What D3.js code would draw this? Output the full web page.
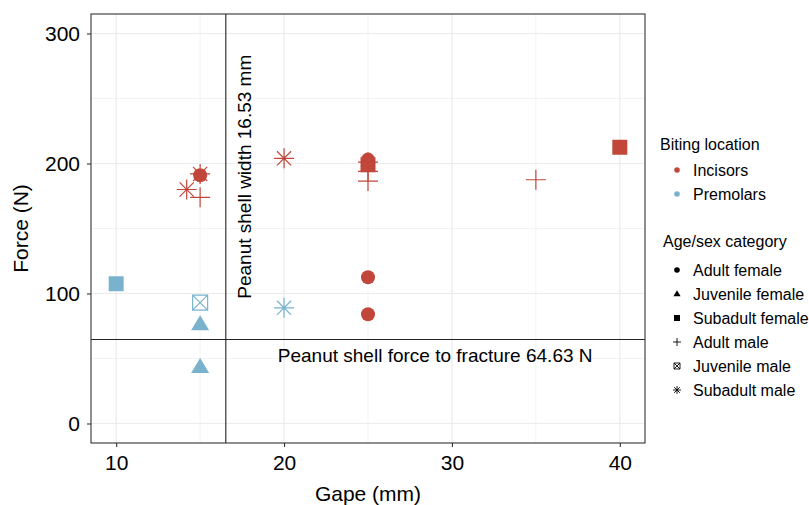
<!DOCTYPE html>
<html>
<head>
<meta charset="utf-8">
<script src="https://cdn.jsdelivr.net/npm/d3@7"></script>
<style>
  body { margin: 0; background: #fff; }
  svg { font-family: "Liberation Sans", Arial, sans-serif; }
</style>
</head>
<body>
<div id="chart"></div>
<script>
// values
const gape     = [15, 15, 14.2, 15, 20, 25, 25, 25, 25, 25, 25, 25, 35, 40, 10, 15, 15, 15, 20];
const force    = [191, 192, 180, 174, 204, 203, 199, 201, 194, 186.5, 112.5, 84, 187.5, 212.5, 107.5, 93, 76, 43, 89];
const bitingLoc = ['Incisors', 'Incisors', 'Incisors', 'Incisors', 'Incisors', 'Incisors', 'Incisors',
    'Incisors', 'Incisors', 'Incisors', 'Incisors', 'Incisors', 'Incisors', 'Incisors',
    'Premolars', 'Premolars', 'Premolars', 'Premolars', 'Premolars'];
const category = ['Adult female', 'Subadult male', 'Subadult male', 'Adult male', 'Subadult male',
    'Adult female', 'Subadult female', 'Adult male', 'Adult male', 'Adult male', 'Adult female',
    'Adult female', 'Adult male', 'Subadult female', 'Subadult female', 'Juvenile male',
    'Juvenile female', 'Juvenile female', 'Subadult male'];

const locations = ['Incisors', 'Premolars'];
const categories = ['Adult female', 'Juvenile female', 'Subadult female', 'Adult male', 'Juvenile male', 'Subadult male'];
const xTicks = [10, 20, 30, 40];
const yTicks = [0, 100, 200, 300];
const shellWidth = 16.53;
const shellForce = 64.63;

const points = gape.map((g, i) => ({gape: g, force: force[i], loc: bitingLoc[i], cat: category[i]}));

const width = 809, height = 505;
const margin = {top: 14, right: 164, bottom: 62, left: 91};

const svg = d3.select('#chart').append('svg')
    .attr('width', width)
    .attr('height', height);

const x = d3.scaleLinear().domain([8.5, 41.5]).range([margin.left, width - margin.right]);
const y = d3.scaleLinear().domain([-15, 315]).range([height - margin.bottom, margin.top]);

const colour = d3.scaleOrdinal().domain(locations).range(['#c0473a', '#7ab2ce']);

// shape path for each category, s = scale factor
function shapePath(cat, s) {
    const p = d3.path();
    if (cat === 'Adult female') {
        const r = 7 * s;
        p.moveTo(r, 0); p.arc(0, 0, r, 0, 2 * Math.PI);
    } else if (cat === 'Juvenile female') {
        p.moveTo(0, -9.5 * s); p.lineTo(9 * s, 5.5 * s); p.lineTo(-9 * s, 5.5 * s); p.closePath();
    } else if (cat === 'Subadult female') {
        p.rect(-7.5 * s, -7.5 * s, 15 * s, 15 * s);
    } else if (cat === 'Adult male') {
        p.moveTo(-10 * s, 0); p.lineTo(10 * s, 0); p.moveTo(0, -10 * s); p.lineTo(0, 10 * s);
    } else if (cat === 'Juvenile male') {
        const h = 7.5 * s;
        p.rect(-h, -h, 2 * h, 2 * h);
        p.moveTo(-h, -h); p.lineTo(h, h); p.moveTo(h, -h); p.lineTo(-h, h);
    } else {
        const r = 10 * s, d = r * Math.SQRT1_2;
        p.moveTo(-r, 0); p.lineTo(r, 0); p.moveTo(0, -r); p.lineTo(0, r);
        p.moveTo(-d, -d); p.lineTo(d, d); p.moveTo(d, -d); p.lineTo(-d, d);
    }
    return p.toString();
}
const filled = c => ['Adult female', 'Juvenile female', 'Subadult female'].includes(c);

// grid
const grid = svg.append('g').attr('stroke', '#ebebeb');
grid.selectAll('.vminor').data([15, 25, 35]).join('line')
    .attr('class', 'vminor')
    .attr('x1', d => x(d)).attr('x2', d => x(d))
    .attr('y1', margin.top).attr('y2', height - margin.bottom).attr('stroke-width', 0.6);
grid.selectAll('.hminor').data([50, 150, 250]).join('line')
    .attr('class', 'hminor')
    .attr('y1', d => y(d)).attr('y2', d => y(d))
    .attr('x1', margin.left).attr('x2', width - margin.right).attr('stroke-width', 0.6);
grid.selectAll('.vmajor').data(xTicks).join('line')
    .attr('class', 'vmajor')
    .attr('x1', d => x(d)).attr('x2', d => x(d))
    .attr('y1', margin.top).attr('y2', height - margin.bottom).attr('stroke-width', 1.2);
grid.selectAll('.hmajor').data(yTicks).join('line')
    .attr('class', 'hmajor')
    .attr('y1', d => y(d)).attr('y2', d => y(d))
    .attr('x1', margin.left).attr('x2', width - margin.right).attr('stroke-width', 1.2);

// reference lines
svg.append('line')
    .attr('x1', x(shellWidth)).attr('x2', x(shellWidth))
    .attr('y1', margin.top).attr('y2', height - margin.bottom)
    .attr('stroke', '#222').attr('stroke-width', 1.1);
svg.append('line')
    .attr('y1', y(shellForce)).attr('y2', y(shellForce))
    .attr('x1', margin.left).attr('x2', width - margin.right)
    .attr('stroke', '#222').attr('stroke-width', 1.1);

svg.append('text')
    .attr('transform', `translate(${x(shellWidth) + 25},${y(96)}) rotate(-90)`)
    .attr('font-size', 19)
    .attr('fill', '#000')
    .text('Peanut shell width 16.53 mm');
svg.append('text')
    .attr('x', x(29)).attr('y', y(shellForce) + 23)
    .attr('text-anchor', 'middle')
    .attr('font-size', 19)
    .attr('fill', '#000')
    .text('Peanut shell force to fracture 64.63 N');

// points
svg.append('g').selectAll('path').data(points).join('path')
    .attr('transform', d => `translate(${x(d.gape)},${y(d.force)})`)
    .attr('d', d => shapePath(d.cat, 1))
    .attr('fill', d => filled(d.cat) ? colour(d.loc) : 'none')
    .attr('stroke', d => colour(d.loc))
    .attr('stroke-width', d => filled(d.cat) ? 0 : 1.2);

// panel border
svg.append('rect')
    .attr('x', margin.left).attr('y', margin.top)
    .attr('width', width - margin.left - margin.right)
    .attr('height', height - margin.top - margin.bottom)
    .attr('fill', 'none').attr('stroke', '#333').attr('stroke-width', 1.1);

// axes
const xAxis = svg.append('g')
    .attr('transform', `translate(0,${height - margin.bottom})`)
    .call(d3.axisBottom(x).tickValues(xTicks).tickSize(4).tickPadding(8));
const yAxis = svg.append('g')
    .attr('transform', `translate(${margin.left},0)`)
    .call(d3.axisLeft(y).tickValues(yTicks).tickSize(4).tickPadding(7));
[xAxis, yAxis].forEach(a => {
    a.select('.domain').remove();
    a.selectAll('line').attr('stroke', '#333').attr('stroke-width', 1.1);
    a.selectAll('text').attr('font-size', 21).attr('fill', '#000')
        .attr('font-family', '"Liberation Sans", Arial, sans-serif');
});

svg.append('text')
    .attr('x', (margin.left + width - margin.right) / 2).attr('y', 501)
    .attr('text-anchor', 'middle').attr('font-size', 21)
    .text('Gape (mm)');
svg.append('text')
    .attr('transform', `translate(28,${(margin.top + height - margin.bottom) / 2}) rotate(-90)`)
    .attr('text-anchor', 'middle').attr('font-size', 21)
    .text('Force (N)');

// legends
const leg1 = svg.append('g').attr('transform', 'translate(660,0)');
leg1.append('text').attr('x', 0).attr('y', 150).attr('font-size', 16).text('Biting location');
const l1 = leg1.selectAll('.item').data(locations).join('g')
    .attr('transform', (d, i) => `translate(0,${170 + i * 24})`);
l1.append('circle').attr('cx', 17).attr('cy', 0).attr('r', 2.8).attr('fill', d => colour(d));
l1.append('text').attr('x', 33).attr('y', 6).attr('font-size', 16).text(d => d);

const leg2 = svg.append('g').attr('transform', 'translate(663,0)');
leg2.append('text').attr('x', 0).attr('y', 247).attr('font-size', 16).text('Age/sex category');
const l2 = leg2.selectAll('.item').data(categories).join('g')
    .attr('transform', (d, i) => `translate(0,${270 + i * 24})`);
l2.append('path')
    .attr('transform', 'translate(14,0)')
    .attr('d', d => shapePath(d, 0.4))
    .attr('fill', d => filled(d) ? '#000' : 'none')
    .attr('stroke', '#000')
    .attr('stroke-width', d => filled(d) ? 0 : 0.9);
l2.append('text').attr('x', 30).attr('y', 6).attr('font-size', 16).text(d => d);
</script>
</body>
</html>
